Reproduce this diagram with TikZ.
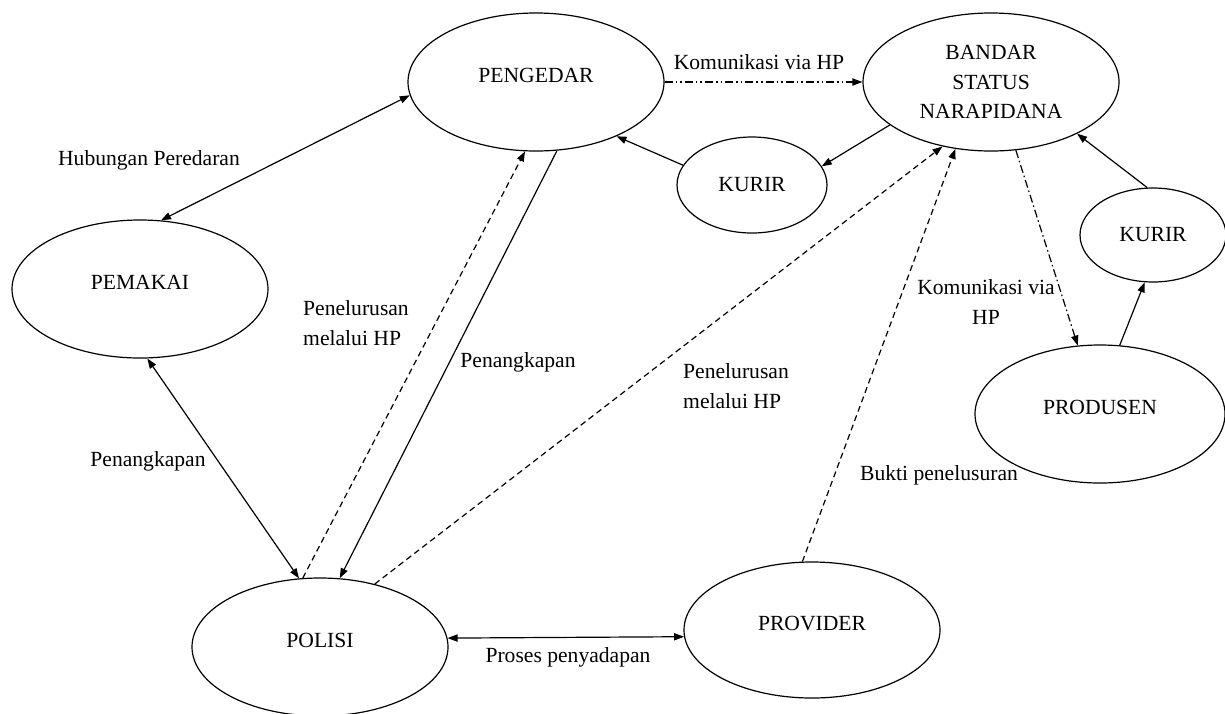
\documentclass[tikz,border=0pt]{standalone}
\usepackage{fontspec}
\setmainfont{Liberation Serif}
\usetikzlibrary{shapes.geometric,arrows.meta}

\tikzset{
  entity/.style={ellipse, draw, line width=0.6pt, inner sep=0pt, minimum width=128pt, minimum height=69pt},
  kurirbox/.style={ellipse, draw, line width=0.6pt, inner sep=0pt, minimum width=75pt, minimum height=48pt},
  raised/.style={text height=7.5pt, text depth=7.5pt},
  lbl/.style={inner sep=0pt, align=left},
  link/.style={line width=0.6pt, ->},
  trace/.style={link, dash pattern=on 3pt off 2pt},
  hpline/.style={link, dash pattern=on 4pt off 1.5pt on 0.8pt off 1.5pt on 0.8pt off 1.5pt},
}

\begin{document}
\begin{tikzpicture}[x=0.5pt, y=-0.5pt, font=\fontsize{10.8}{14.8}\selectfont,
  >={Triangle[length=5pt,width=3.6pt]}]
\useasboundingbox (0,0) rectangle (1225,713);

% actors
\node[entity, raised] (pengedar) at (536,82) {PENGEDAR};
\node[entity, align=center] (bandar) at (991,82) {BANDAR\\STATUS\\NARAPIDANA};
\node[kurirbox] (kurirA) at (752,185) {KURIR};
\node[kurirbox, minimum width=73pt, minimum height=47pt] (kurirB) at (1153,235) {KURIR};
\node[entity, raised] (pemakai) at (140,289) {PEMAKAI};
\node[entity, raised, minimum width=125pt] (produsen) at (1100,414) {PRODUSEN};
\node[entity, raised] (polisi) at (320,647) {POLISI};
\node[entity, raised, minimum height=68pt] (provider) at (812,630) {PROVIDER};

% labels
\node[lbl] (lkom) at (759,62) {Komunikasi via HP};
\node[lbl] (lhub) at (149,160) {Hubungan Peredaran};
\node[lbl] (lpen1) at (356,323) {Penelurusan\\melalui HP};
\node[lbl] (ltangkap1) at (518,362) {Penangkapan};
\node[lbl] (lpen2) at (736,386) {Penelurusan\\melalui HP};
\node[lbl, align=center] (lkom2) at (986,302) {Komunikasi via\\HP};
\node[lbl] (ltangkap2) at (148,461) {Penangkapan};
\node[lbl] (lbukti) at (939,475) {Bukti penelusuran};
\node[lbl] (lsadap) at (568,657) {Proses penyadapan};

% connectors
\draw[hpline] (pengedar.east) -- (bandar.west);
\draw[link] (bandar.203) -- (kurirA.15);
\draw[link] (kurirA.164) -- (pengedar.326);
\draw[link, <->] (pemakai.73) -- (pengedar.186);
\draw[link, <->] (pemakai.276) -- (polisi.107);
\draw[link] (pengedar.287) -- (polisi.74);
\draw[trace] (polisi.104) -- (pengedar.261);
\draw[trace] (polisi.49) -- (bandar.233);
\draw[trace] (provider.98) -- (bandar.242);
\draw[link, dash pattern=on 4pt off 1.5pt on 0.8pt off 1.5pt] (bandar.290) -- (produsen.108);
\draw[link] (produsen.74) -- (kurirB.260);
\draw[link] (kurirB.97) -- (bandar.329);
\draw[link, <->] (polisi.4) -- (provider.183);

\end{tikzpicture}
\end{document}
